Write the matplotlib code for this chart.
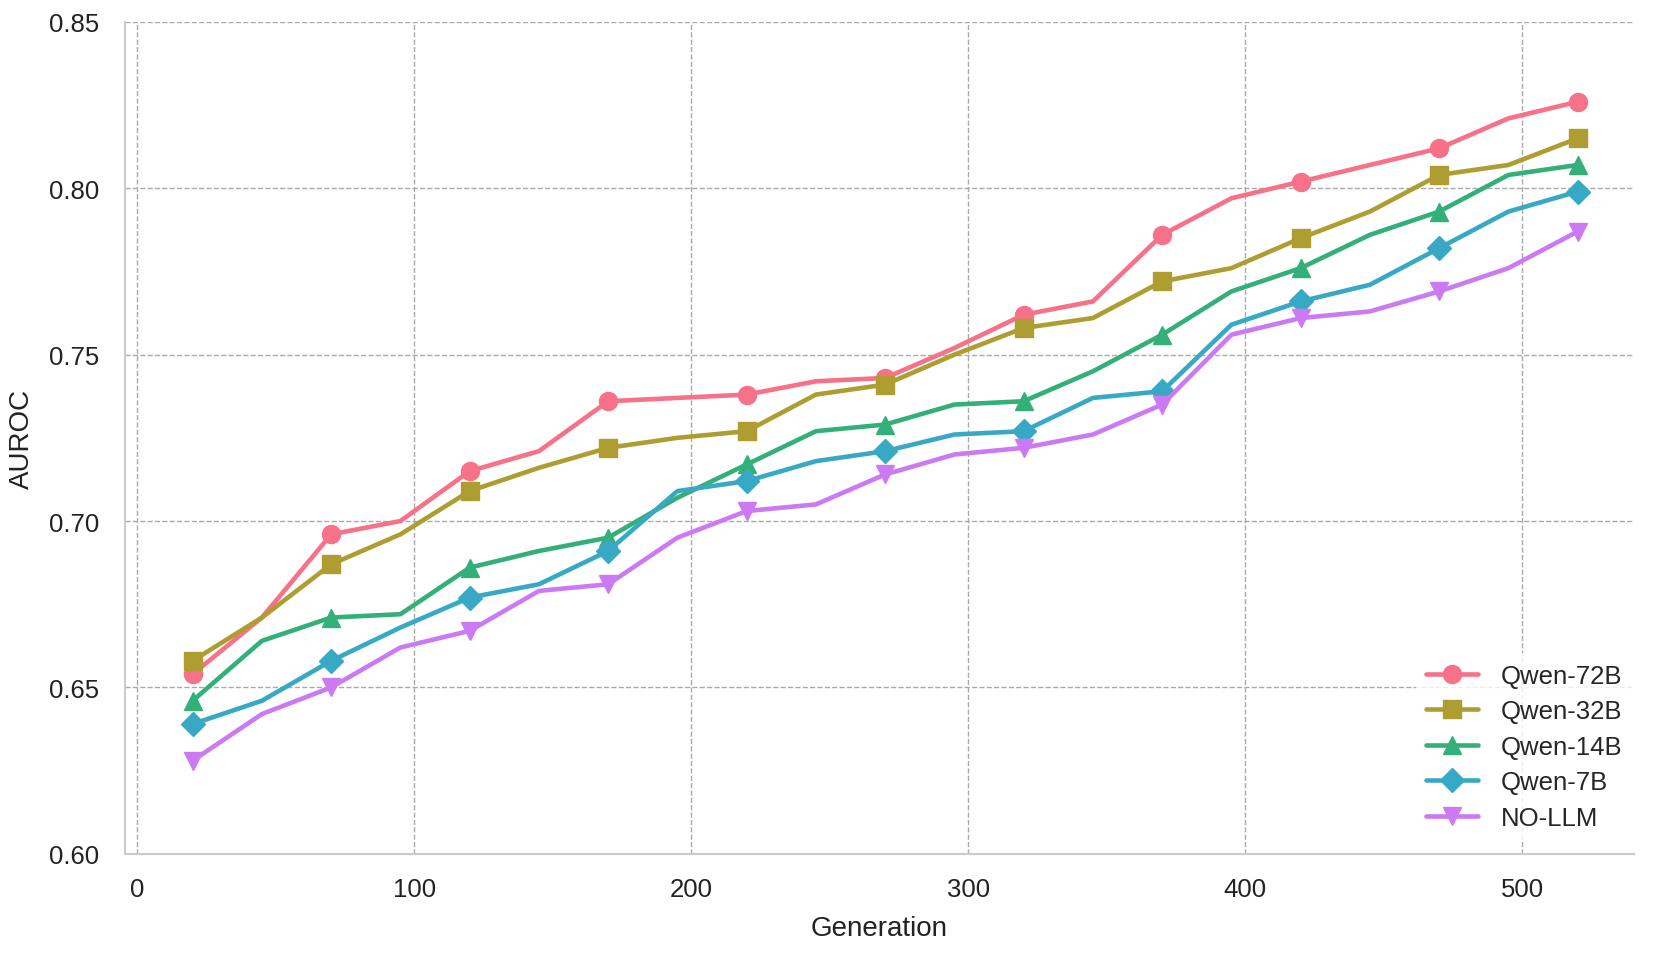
import matplotlib
matplotlib.use("Agg")
import matplotlib.pyplot as plt
import seaborn as sns
import numpy as np

generations = list(range(20, 521, 25))
qwen72 = [0.654, 0.671, 0.696, 0.700, 0.715, 0.721, 0.736, 0.737, 0.738, 0.742, 0.743,
          0.752, 0.762, 0.766, 0.786, 0.797, 0.802, 0.807, 0.812, 0.821, 0.826]
qwen32 = [0.658, 0.671, 0.687, 0.696, 0.709, 0.716, 0.722, 0.725, 0.727, 0.738, 0.741,
          0.750, 0.758, 0.761, 0.772, 0.776, 0.785, 0.793, 0.804, 0.807, 0.815]
qwen14 = [0.646, 0.664, 0.671, 0.672, 0.686, 0.691, 0.695, 0.707, 0.717, 0.727, 0.729,
          0.735, 0.736, 0.745, 0.756, 0.769, 0.776, 0.786, 0.793, 0.804, 0.807]
qwen7 = [0.639, 0.646, 0.658, 0.668, 0.677, 0.681, 0.691, 0.709, 0.712, 0.718, 0.721,
         0.726, 0.727, 0.737, 0.739, 0.759, 0.766, 0.771, 0.782, 0.793, 0.799]
nollm = [0.628, 0.642, 0.650, 0.662, 0.667, 0.679, 0.681, 0.695, 0.703, 0.705, 0.714,
         0.720, 0.722, 0.726, 0.735, 0.756, 0.761, 0.763, 0.769, 0.776, 0.787]
labels = ["Qwen-72B", "Qwen-32B", "Qwen-14B", "Qwen-7B", "NO-LLM"]
markers = ["o", "s", "^", "D", "v"]

sns.set_theme(style="whitegrid")
plt.rcParams['font.family'] = ['Liberation Sans', 'DejaVu Sans']

colors = sns.color_palette("husl", 5)

fig = plt.figure(figsize=(16.61, 9.54), dpi=100)
ax = fig.add_axes([0.075, 0.104, 0.909, 0.872])

series = [qwen72, qwen32, qwen14, qwen7, nollm]
for vals, lab, mk, c in zip(series, labels, markers, colors):
    ax.plot(generations, vals, marker=mk, label=lab, color=c, linewidth=3.3,
            markersize=13 if mk != "D" else 12, markevery=2)

ax.set_xlim(-4.6, 540.5)
ax.set_ylim(0.60, 0.85)
ax.set_yticks([0.60, 0.65, 0.70, 0.75, 0.80, 0.85])
ax.set_xticks([0, 100, 200, 300, 400, 500])
ax.grid(True, linestyle="--", color="#aaaaaa", linewidth=1.0)
for s in ["top", "right"]:
    ax.spines[s].set_visible(False)
for s in ["left", "bottom"]:
    ax.spines[s].set_color("#cccccc")
    ax.spines[s].set_linewidth(1.5)
ax.tick_params(axis="y", labelsize=18.5, colors="#222222", pad=12)
ax.tick_params(axis="x", labelsize=18.5, colors="#222222", pad=10.5)
ax.set_xlabel("Generation", fontsize=20, color="#222222", labelpad=10)
ax.set_ylabel("AUROC", fontsize=20, color="#222222", labelpad=10)
leg = ax.legend(loc="lower right", bbox_to_anchor=(0.999, 0.0165), borderaxespad=0,
                fontsize=18.5, frameon=True, framealpha=0.8,
                edgecolor="none", facecolor="white", handlelength=2.0,
                handletextpad=0.9, labelspacing=0.45)

fig.savefig("out.png", dpi=100)
